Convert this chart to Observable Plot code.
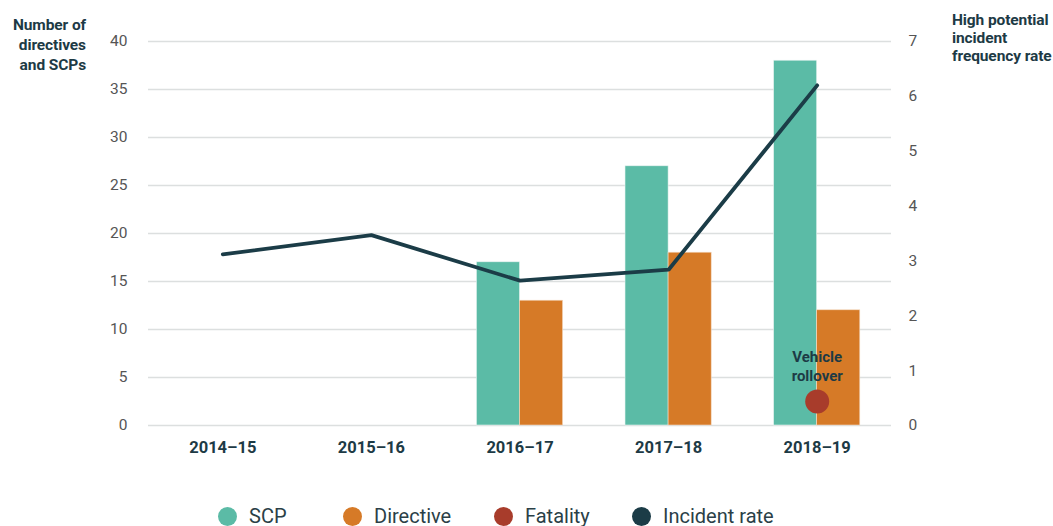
<!DOCTYPE html>
<html>
<head>
<meta charset="utf-8">
<script src="https://cdn.jsdelivr.net/npm/d3@7"></script>
<script src="https://cdn.jsdelivr.net/npm/@observablehq/plot@0.6"></script>
<style>
  html, body { margin: 0; padding: 0; background: #fff; }
  body { width: 1053px; height: 526px; position: relative; overflow: hidden; font-family: Roboto, "Open Sans", sans-serif; }
  .ttl { position: absolute; font-weight: 700; font-size: 15.5px; color: #1d3a45; letter-spacing: -0.1px; }
  #tl { right: calc(1053px - 86px); top: 15px; text-align: right; line-height: 20px; }
  #tr { left: 952px; top: 11px; text-align: left; line-height: 18px; }
  #legend { position: absolute; left: 0; top: 505px; width: 1053px; height: 22px; font-size: 20px; color: #2b3f47; }
  .item { position: absolute; top: 0; display: flex; align-items: center; height: 22px; white-space: nowrap; }
  .sw { width: 19px; height: 19px; border-radius: 50%; margin-right: 12px; }
</style>
</head>
<body>
<div id="chart"></div>
<div class="ttl" id="tl">Number of<br>directives<br>and SCPs</div>
<div class="ttl" id="tr">High potential<br>incident<br>frequency rate</div>
<div id="legend"></div>
<script>
// ---- data ----
const years = ["2014–15", "2015–16", "2016–17", "2017–18", "2018–19"];
const scp = [null, null, 17, 27, 38];
const directive = [null, null, 13, 18, 12];
const incidentRate = [3.12, 3.47, 2.64, 2.84, 6.2];
const fatalityYears = ["2018–19"];
const fatalityLabels = ["Vehicle\nrollover"];
const fatalityMarker = [2.5]; // marker height on the count axis
const leftTicks = [0, 5, 10, 15, 20, 25, 30, 35, 40];
const rightTicks = [0, 1, 2, 3, 4, 5, 6, 7];
const leftMax = 40, rightMax = 7;
const legendNames = ["SCP", "Directive", "Fatality", "Incident rate"];
const legendColors = ["#5bbba6", "#d67a27", "#a83c2b", "#1b3c47"];

// ---- derived tables ----
const colors = Object.fromEntries(legendNames.map((n, k) => [n, legendColors[k]]));
const idx = y => years.indexOf(y);
const scpData = years.map((y, i) => ({ i, v: scp[i] })).filter(d => d.v != null);
const dirData = years.map((y, i) => ({ i, v: directive[i] })).filter(d => d.v != null);
const rateData = years.map((y, i) => ({ i, v: incidentRate[i] * leftMax / rightMax }));
const fatalData = fatalityYears.map((y, k) => ({ i: idx(y), v: fatalityMarker[k], label: fatalityLabels[k] }));

const half = 0.29;
const plot = Plot.plot({
  width: 1053,
  height: 470,
  marginLeft: 148,
  marginRight: 162,
  marginTop: 41,
  marginBottom: 45,
  style: { fontFamily: "Roboto, sans-serif", background: "transparent" },
  x: { type: "linear", domain: [-0.5, 4.5], axis: null },
  y: { domain: [0, leftMax], axis: null },
  marks: [
    Plot.ruleY(leftTicks, { stroke: "#dcdfdf", strokeWidth: 1.6 }),
    Plot.rectY(scpData, { x1: d => d.i - half, x2: d => d.i, y: "v", fill: colors.SCP, stroke: "#e8f4f1", strokeWidth: 0.6 }),
    Plot.rectY(dirData, { x1: d => d.i, x2: d => d.i + half, y: "v", fill: colors.Directive, stroke: "#f3d9c2", strokeWidth: 0.6 }),
    Plot.line(rateData, { x: "i", y: "v", stroke: colors["Incident rate"], strokeWidth: 3.8, strokeLinecap: "round", strokeLinejoin: "miter" }),
    Plot.dot(fatalData, { x: "i", y: "v", r: 12, fill: colors.Fatality, stroke: "none" }),
    Plot.text(fatalData, { x: "i", y: "v", text: "label", dy: -36, fontSize: 15, fontWeight: 700, fill: "#1d3a45", lineHeight: 1.3 }),
    Plot.axisY({ anchor: "left", ticks: leftTicks, tickSize: 0, tickPadding: 21, label: null, fontSize: 15.5, fill: "#555" }),
    Plot.axisY({ anchor: "right", ticks: rightTicks.map(v => v * leftMax / rightMax), tickFormat: v => String(Math.round(v * rightMax / leftMax)), tickSize: 0, tickPadding: 17, label: null, fontSize: 15.5, fill: "#555" }),
    Plot.axisX({ ticks: years.map((y, i) => i), tickFormat: i => years[i], tickSize: 0, tickPadding: 16, label: null, fontSize: 16.5, fontWeight: 700, fill: "#1d3a45" })
  ]
});
document.getElementById("chart").appendChild(plot);

// ---- legend ----
const legend = document.getElementById("legend");
const legendLeft = [218, 343, 494, 632];
legendNames.forEach((name, k) => {
  const it = document.createElement("div");
  it.className = "item";
  it.style.left = legendLeft[k] + "px";
  const sw = document.createElement("span");
  sw.className = "sw";
  sw.style.background = legendColors[k];
  const tx = document.createElement("span");
  tx.textContent = name;
  it.appendChild(sw); it.appendChild(tx);
  legend.appendChild(it);
});
</script>
</body>
</html>
